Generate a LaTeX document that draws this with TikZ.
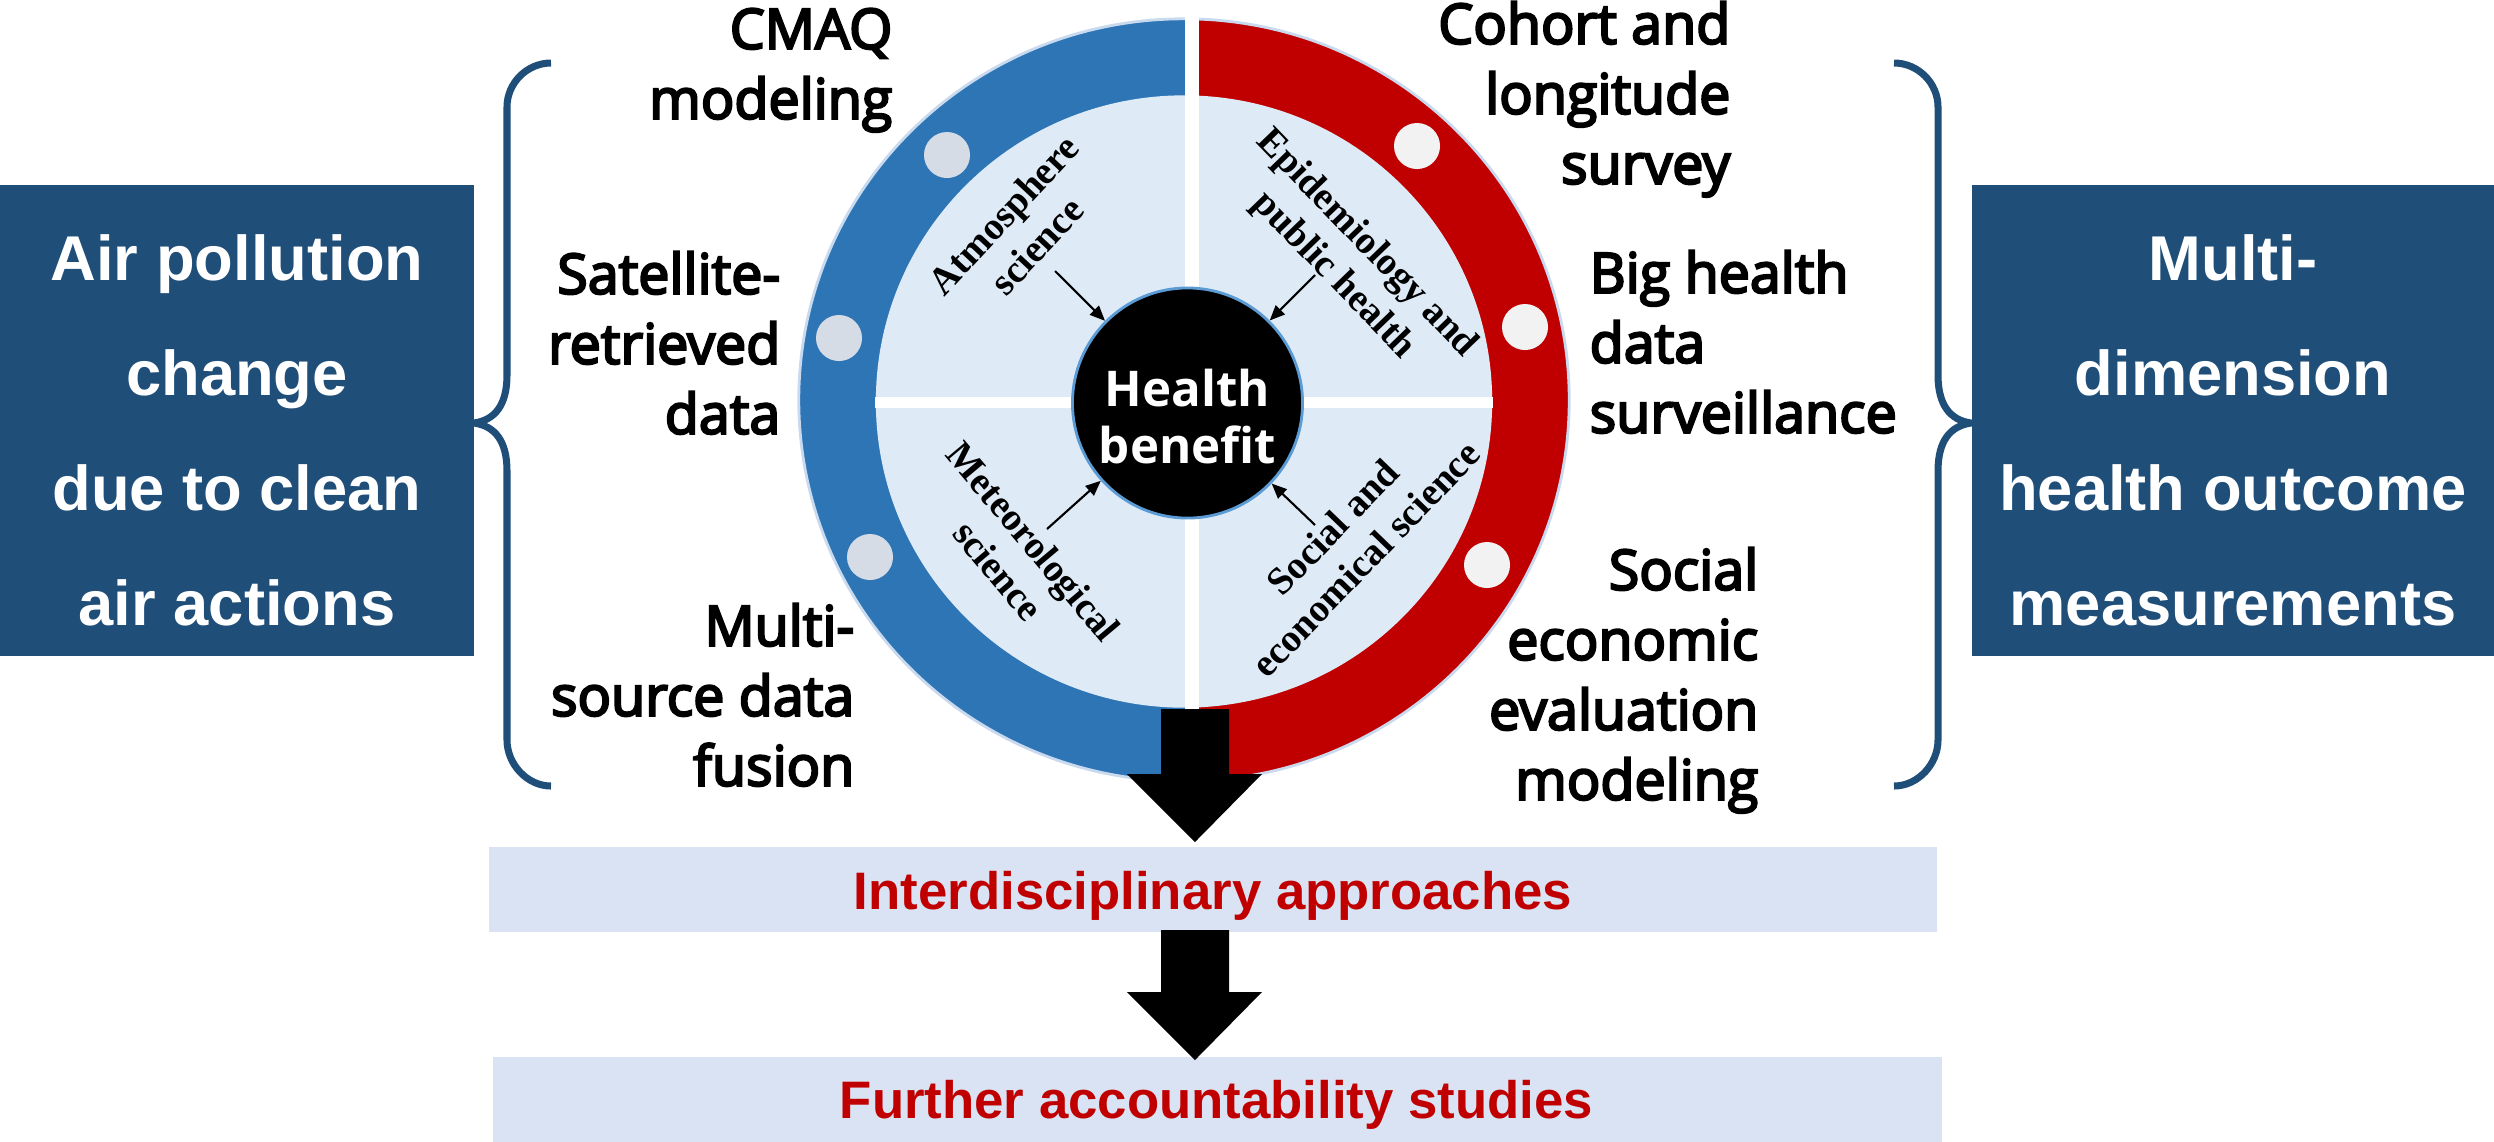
\documentclass[tikz,border=0pt]{standalone}
\usepackage{fontspec}
\setmainfont{Liberation Sans}
\newfontfamily\labelfont[FakeBold=4]{Open Sans}
\newfontfamily\hbfont{Open Sans}
\newfontfamily\disciplinefont{Liberation Serif}
\usetikzlibrary{arrows.meta,calc}

\definecolor{boxblue}{HTML}{1F4E79}
\definecolor{ringblue}{HTML}{2E75B6}
\definecolor{ringred}{HTML}{C00000}
\definecolor{diskblue}{HTML}{DEEBF7}
\definecolor{bandblue}{HTML}{DAE3F3}
\definecolor{dotblue}{HTML}{D6DCE5}
\definecolor{dotred}{HTML}{F2F2F2}
\definecolor{rimline}{HTML}{C9DAEF}
\definecolor{hbrim}{HTML}{5B9BD5}
\definecolor{textred}{HTML}{C00000}

\newcommand\topstrut{\rule{0pt}{13pt}}
% solid block arrow pointing down from #1 to the tip #2
\newcommand\downarrowshape[2]{%
  \fill[black] ($(#1)+(-34,0)$) -- ($(#1)+(34,0)$) -- ($(#2)+(34,-68)$)
    -- ($(#2)+(67,-68)$) -- (#2) -- ($(#2)+(-68,-68)$) -- ($(#2)+(-34,-68)$) -- cycle;}

\begin{document}
\begin{tikzpicture}[x=0.01cm,y=-0.01cm,
  sidebox/.style={fill=boxblue, inner sep=0pt, minimum height=4.71cm},
  boxtext/.style={text=white, align=center, inner sep=0pt,
    font=\bfseries\fontsize{18}{32.7}\selectfont},
  lab/.style={inner sep=0pt, font=\labelfont\fontsize{15.8}{19.9}\selectfont},
  band/.style={fill=bandblue, inner sep=0pt, minimum height=0.85cm},
  bandtext/.style={text=textred, inner sep=0pt, anchor=base,
    font=\bfseries\fontsize{15}{18}\selectfont},
  discipline/.style={inner sep=0pt, align=center,
    font=\disciplinefont\bfseries\fontsize{11}{13}\selectfont},
  feed/.style={line width=0.6pt, -{Triangle[length=4.3pt,width=3.6pt]}},
  brace/.style={draw=boxblue, line width=2pt},
  ringdim/.style={x radius=3.85cm, y radius=3.81cm},
  diskdim/.style={x radius=3.08cm, y radius=3.06cm},
  dot/.style={radius=0.23cm}
]
\useasboundingbox (0,0) rectangle (2494,1141);

% side boxes
\node[sidebox, minimum width=4.74cm] (air) at (237,420.5) {};
\node[boxtext] (airtext) at (237,430) {Air pollution\\change\\due to clean\\air actions};
\node[sidebox, minimum width=5.22cm] (outcome) at (2233,420.5) {};
\node[boxtext] (outcometext) at (2233,430) {Multi-\\dimension\\health outcome\\measurements};

% braces
\draw[brace] (551,63) .. controls (527,63) and (507,83) .. (507,107) -- (507,375)
  .. controls (507,405) and (495,420) .. (474,423)
  .. controls (495,426) and (507,441) .. (507,471) -- (507,740)
  .. controls (507,764) and (527,786) .. (551,786);
\draw[brace] (1894,63) .. controls (1918,63) and (1938,83) .. (1938,107) -- (1938,375)
  .. controls (1938,405) and (1950,420) .. (1971,423)
  .. controls (1950,426) and (1938,441) .. (1938,471) -- (1938,740)
  .. controls (1938,764) and (1918,786) .. (1894,786);

% ring: blue left half, red right half
\fill[ringblue] (1184,400) ellipse[ringdim];
\begin{scope}
  \clip (1192,0) rectangle (1700,800);
  \fill[ringred] (1184,400) ellipse[ringdim];
\end{scope}
\draw[rimline, line width=0.8pt] (1184,400) ellipse[ringdim];
\fill[diskblue] (1184,401.5) ellipse[diskdim];
\draw[white, line width=4pt] (1192,10) -- (1192,790);
\draw[white, line width=3.1pt] (875,402.5) -- (1493,402.5);

% dots on the ring
\fill[dotblue] (947,155) circle[dot];
\fill[dotblue] (839,338) circle[dot];
\fill[dotblue] (870,557) circle[dot];
\fill[dotred] (1417,146) circle[dot];
\fill[dotred] (1525,327) circle[dot];
\fill[dotred] (1487,565) circle[dot];

% centre
\node[circle, fill=black, draw=hbrim, line width=0.8pt, minimum size=2.3cm, inner sep=0pt] (hb) at (1187.5,403) {};
\node[text=white, align=center, inner sep=0pt, font=\hbfont\bfseries\fontsize{14}{16.2}\selectfont] (hbtext) at (1187.5,417) {Health\\benefit};

% disciplines
\node[discipline, rotate=47] (atm) at (1020,230) {Atmosphere\\science};
\node[discipline, rotate=-46] (epi) at (1350,260) {Epidemiology and\\public health};
\node[discipline, rotate=-50] (met) at (1016,556) {Meteorological\\science};
\node[discipline, rotate=46] (soc) at (1349,543) {Social and\\economical science};

\coordinate (f1) at (1055,271);
\coordinate (f2) at (1315,275);
\coordinate (f3) at (1047,529);
\coordinate (f4) at (1315,525);
\draw[feed] (f1) -- (hb);
\draw[feed] (f2) -- (hb);
\draw[feed] (f3) -- (hb);
\draw[feed] (f4) -- (hb);

% method labels
\node[lab, anchor=north east, align=right] (cmaq) at (893,2.3) {\topstrut CMAQ\\modeling};
\node[lab, anchor=north east, align=right] (sat) at (781,247.3) {\topstrut Satellite-\\retrieved\\data};
\node[lab, anchor=north east, align=right] (fus) at (855,599.3) {\topstrut Multi-\\source data\\fusion};
\node[lab, anchor=north east, align=right] (coh) at (1731,-2.7) {\topstrut Cohort and\\longitude\\survey};
\node[lab, anchor=north west, align=left] (big) at (1589,246.3) {\topstrut Big health\\data\\surveillance};
\node[lab, anchor=north east, align=right] (soe) at (1759,543.3) {\topstrut Social\\economic\\evaluation\\modeling};

% bands
\node[band, minimum width=14.48cm] (inter) at (1213,889.5) {};
\node[bandtext] (intertext) at (1213,909) {Interdisciplinary approaches};
\node[band, minimum width=14.49cm] (further) at (1217.5,1099) {};
\node[bandtext] (furthertext) at (1216.5,1118) {Further accountability studies};

% block arrows
\coordinate (d1s) at (1195,709);
\coordinate (d1e) at (1195,842);
\coordinate (d2s) at (1195,930);
\coordinate (d2e) at (1195,1060);
\downarrowshape{d1s}{d1e}
\downarrowshape{d2s}{d2e}
\end{tikzpicture}
\end{document}
